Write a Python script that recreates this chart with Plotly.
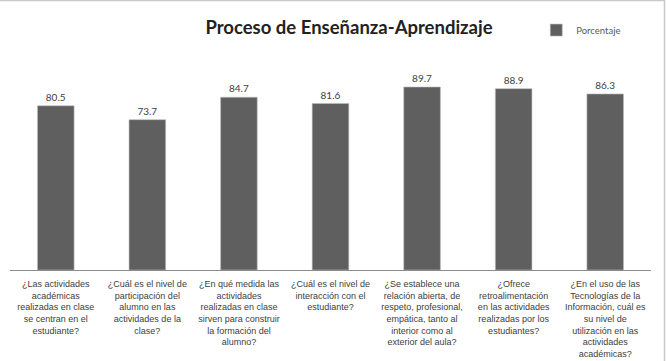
import plotly.graph_objects as go

categories = [
    "¿Las actividades<br>académicas<br>realizadas en clase<br>se centran en el<br>estudiante?",
    "¿Cuál es el nivel de<br>participación del<br>alumno en las<br>actividades de la<br>clase?",
    "¿En qué medida las<br>actividades<br>realizadas en clase<br>sirven para construir<br>la formación del<br>alumno?",
    "¿Cuál es el nivel de<br>interacción con el<br>estudiante?",
    "¿Se establece una<br>relación abierta, de<br>respeto, profesional,<br>empática, tanto al<br>interior como al<br>exterior del aula?",
    "¿Ofrece<br>retroalimentación<br>en las actividades<br>realizadas por los<br>estudiantes?",
    "¿En el uso de las<br>Tecnologías de la<br>Información, cuál es<br>su nivel de<br>utilización en las<br>actividades<br>académicas?",
]
porcentaje = [80.5, 73.7, 84.7, 81.6, 89.7, 88.9, 86.3]
series_name = "Porcentaje"
title_text = "Proceso de Enseñanza-Aprendizaje"

FONT = "Lato"
TICKFONT = "Liberation Sans"

fig = go.Figure()
fig.add_trace(go.Bar(
    x=categories,
    y=porcentaje,
    name=series_name,
    marker=dict(color="#5f5f5f", line=dict(color="#bdbdbd", width=0.6)),
    width=0.4,
    text=[f"{v:.1f}" for v in porcentaje],
    textposition="outside",
    textfont=dict(family=FONT, size=10, color="#404040"),
    cliponaxis=False,
    showlegend=True,
))

fig.update_layout(
    width=666, height=361,
    margin=dict(l=10, r=15, t=66, b=91),
    paper_bgcolor="white", plot_bgcolor="white",
    title=dict(text=title_text, x=349/666, xanchor="center", y=1-28/361, yanchor="middle",
               font=dict(family=FONT, size=18.5, color="#222222", weight="bold")),
    showlegend=True,
    legend=dict(x=0.821, xanchor="left", y=1.176, yanchor="middle",
                font=dict(family=FONT, size=9.5, color="#595959"),
                bgcolor="rgba(0,0,0,0)", itemwidth=30),
    bargap=0.6,
    font=dict(family=FONT),
)
fig.update_xaxes(
    automargin=False,
    showline=True, linecolor="#8c8c8c", linewidth=1,
    ticks="outside", ticklen=5, tickcolor="rgba(0,0,0,0)", tickangle=0,
    tickfont=dict(family=TICKFONT, size=9, color="#404040"),
    showgrid=False,
)
fig.update_yaxes(range=[0, 100], visible=False, showgrid=False, automargin=False)

# outer border lines (top and right)
fig.add_shape(type="line", xref="paper", yref="paper",
              x0=-10/641, x1=(664-10)/641, y0=(270-0.5)/204, y1=(270-0.5)/204,
              line=dict(color="#c8c8c8", width=1.5))
fig.add_shape(type="line", xref="paper", yref="paper",
              x0=(664.5-10)/641, x1=(664.5-10)/641, y0=(270-0)/204, y1=(270-361)/204,
              line=dict(color="#c8c8c8", width=1.5))

fig.write_html("out.html")
